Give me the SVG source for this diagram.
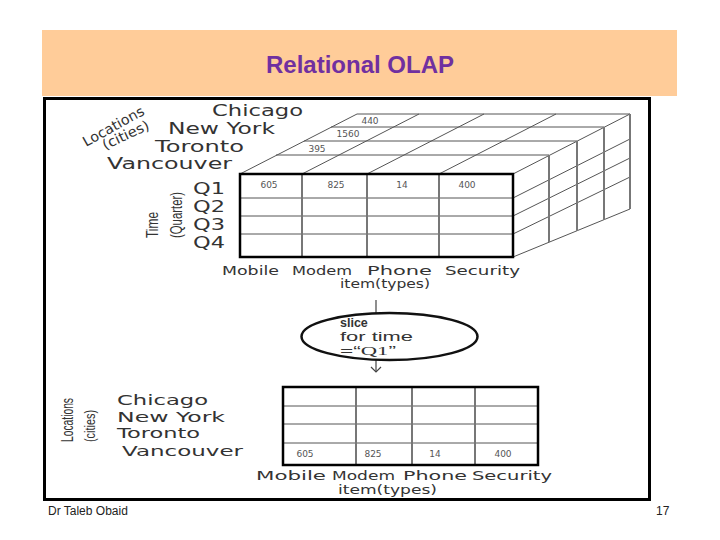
<svg xmlns="http://www.w3.org/2000/svg" width="720" height="540" viewBox="0 0 720 540">
<defs>
<style>
.lbl{font-family:"DejaVu Sans","Liberation Sans",sans-serif;fill:#333;}
.val{font-family:"DejaVu Sans","Liberation Sans",sans-serif;fill:#555;font-size:9px;text-anchor:middle;}
.cal{font-family:"Liberation Sans","DejaVu Sans",sans-serif;fill:#333;}
.thin{stroke:#555;stroke-width:1;fill:none;}
.vg{stroke:#777;stroke-width:2;fill:none;}
.frame{stroke:#000;stroke-width:2.5;fill:none;}
</style>
<marker id="vhead" markerWidth="12" markerHeight="12" refX="6" refY="6" orient="auto" markerUnits="userSpaceOnUse">
<polyline points="1,1 6,6 1,11" fill="none" stroke="#444" stroke-width="1.2"/>
</marker>
</defs>
<rect width="720" height="540" fill="#fff"/>
<g id="title">
<rect x="42" y="30" width="635" height="66" fill="#FFCC99"/>
<text x="360" y="73" font-family="Liberation Sans, Arial, sans-serif" font-weight="bold" font-size="24" fill="#7030A0" text-anchor="middle">Relational OLAP</text>
</g>
<rect x="44.5" y="98.5" width="605" height="401" fill="#fff" stroke="#000" stroke-width="3"/>

<g id="cube">
<g class="thin">
<line x1="240" y1="174" x2="357" y2="114"/>
<line x1="302" y1="174" x2="419" y2="114"/>
<line x1="367" y1="174" x2="484" y2="114"/>
<line x1="439" y1="174" x2="556" y2="114"/>
<line x1="513" y1="174" x2="630" y2="114"/>
<line x1="276" y1="155" x2="549" y2="155"/>
<line x1="304" y1="141" x2="577" y2="141"/>
<line x1="331" y1="127" x2="604" y2="127"/>
<line x1="357" y1="114" x2="630" y2="114"/>
<line x1="513" y1="198" x2="630" y2="139"/>
<line x1="513" y1="216" x2="630" y2="158"/>
<line x1="513" y1="234" x2="630" y2="177"/>
<line x1="513" y1="257" x2="630" y2="209"/>
</g>
<g class="vg">
<line x1="549" y1="155" x2="549" y2="242"/>
<line x1="577" y1="141" x2="577" y2="231"/>
<line x1="604" y1="127" x2="604" y2="220"/>
<line x1="630" y1="114" x2="630" y2="209"/>
</g>
<rect x="240" y="174" width="273" height="83" fill="#fff"/>
<g class="thin">
<line x1="240" y1="198" x2="513" y2="198"/>
<line x1="240" y1="216" x2="513" y2="216"/>
<line x1="240" y1="234" x2="513" y2="234"/>
</g>
<g class="vg">
<line x1="302" y1="174" x2="302" y2="257"/>
<line x1="367" y1="174" x2="367" y2="257"/>
<line x1="439" y1="174" x2="439" y2="257"/>
</g>
<rect x="240" y="174" width="273" height="83" class="frame"/>
<text class="val" x="370" y="124">440</text>
<text class="val" x="348" y="137">1560</text>
<text class="val" x="317" y="152">395</text>
<text class="val" x="269" y="188">605</text>
<text class="val" x="336" y="188">825</text>
<text class="val" x="402" y="188">14</text>
<text class="val" x="467" y="188">400</text>
<text class="lbl" font-size="16" x="212" y="116" textLength="91" lengthAdjust="spacingAndGlyphs">Chicago</text>
<text class="lbl" font-size="16" x="168" y="134" textLength="107" lengthAdjust="spacingAndGlyphs">New York</text>
<text class="lbl" font-size="16" x="155" y="152" textLength="89" lengthAdjust="spacingAndGlyphs">Toronto</text>
<text class="lbl" font-size="16" x="107" y="169" textLength="125" lengthAdjust="spacingAndGlyphs">Vancouver</text>
<text class="lbl" font-size="16" x="193" y="194" textLength="32" lengthAdjust="spacingAndGlyphs">Q1</text>
<text class="lbl" font-size="16" x="193" y="212" textLength="32" lengthAdjust="spacingAndGlyphs">Q2</text>
<text class="lbl" font-size="16" x="193" y="230" textLength="32" lengthAdjust="spacingAndGlyphs">Q3</text>
<text class="lbl" font-size="16" x="193" y="248" textLength="32" lengthAdjust="spacingAndGlyphs">Q4</text>
<text class="cal" font-size="17" transform="translate(158,238) rotate(-90)" textLength="26" lengthAdjust="spacingAndGlyphs">Time</text>
<text class="cal" font-size="16" transform="translate(182,238) rotate(-90)" textLength="46" lengthAdjust="spacingAndGlyphs">(Quarter)</text>
<text class="lbl" font-size="14" transform="translate(86,147) rotate(-29)" textLength="68" lengthAdjust="spacingAndGlyphs">Locations</text>
<text class="lbl" font-size="14" transform="translate(105,150) rotate(-25)" textLength="50" lengthAdjust="spacingAndGlyphs">(cities)</text>
<text class="lbl" font-size="12" x="222" y="275" textLength="57" lengthAdjust="spacingAndGlyphs">Mobile</text>
<text class="lbl" font-size="12" x="292" y="275" textLength="60" lengthAdjust="spacingAndGlyphs">Modem</text>
<text class="lbl" font-size="12" x="367" y="275" textLength="65" lengthAdjust="spacingAndGlyphs">Phone</text>
<text class="lbl" font-size="12" x="445" y="275" textLength="75" lengthAdjust="spacingAndGlyphs">Security</text>
<text class="lbl" font-size="12" x="340" y="288" textLength="90" lengthAdjust="spacingAndGlyphs">item(types)</text>
</g>

<g id="connectors">
<line x1="376" y1="300" x2="376" y2="313" stroke="#444" stroke-width="1.2"/>
<line x1="376" y1="360" x2="376" y2="372" stroke="#444" stroke-width="1.2" marker-end="url(#vhead)"/>
</g>

<g id="slice">
<ellipse cx="389.5" cy="336.5" rx="88" ry="23.5" fill="#fff" stroke="#111" stroke-width="2.5"/>
<text class="cal" font-size="12.5" font-weight="bold" x="340" y="327">slice</text>
<text class="cal" font-size="13" x="340" y="341" textLength="73" lengthAdjust="spacingAndGlyphs">for time</text>
<text class="cal" font-size="13" x="340" y="355" textLength="56" lengthAdjust="spacingAndGlyphs">=“<tspan font-family="Liberation Serif, serif">Q1</tspan>”</text>
</g>

<g id="table">
<rect x="283" y="387" width="255" height="78" fill="#fff"/>
<g class="thin">
<line x1="283" y1="406" x2="538" y2="406"/>
<line x1="283" y1="424" x2="538" y2="424"/>
<line x1="283" y1="443" x2="538" y2="443"/>
</g>
<g class="vg">
<line x1="356" y1="387" x2="356" y2="465"/>
<line x1="412" y1="387" x2="412" y2="465"/>
<line x1="475" y1="387" x2="475" y2="465"/>
</g>
<rect x="283" y="387" width="255" height="78" class="frame"/>
<text class="val" x="305" y="457">605</text>
<text class="val" x="373" y="457">825</text>
<text class="val" x="435" y="457">14</text>
<text class="val" x="503" y="457">400</text>
<text class="lbl" font-size="14" x="117" y="405" textLength="91" lengthAdjust="spacingAndGlyphs">Chicago</text>
<text class="lbl" font-size="14" x="117" y="422" textLength="108" lengthAdjust="spacingAndGlyphs">New York</text>
<text class="lbl" font-size="14" x="117" y="438" textLength="83" lengthAdjust="spacingAndGlyphs">Toronto</text>
<text class="lbl" font-size="14" x="122" y="456" textLength="121" lengthAdjust="spacingAndGlyphs">Vancouver</text>
<text class="cal" font-size="16" transform="translate(73,442) rotate(-90)" textLength="44" lengthAdjust="spacingAndGlyphs">Locations</text>
<text class="cal" font-size="15" transform="translate(95,442) rotate(-90)" textLength="32" lengthAdjust="spacingAndGlyphs">(cities)</text>
<text class="lbl" font-size="13" x="256" y="480" textLength="70" lengthAdjust="spacingAndGlyphs">Mobile</text>
<text class="lbl" font-size="13" x="332" y="480" textLength="63" lengthAdjust="spacingAndGlyphs">Modem</text>
<text class="lbl" font-size="13" x="403" y="480" textLength="64" lengthAdjust="spacingAndGlyphs">Phone</text>
<text class="lbl" font-size="13" x="472" y="480" textLength="80" lengthAdjust="spacingAndGlyphs">Security</text>
<text class="lbl" font-size="13" x="338" y="494" textLength="99" lengthAdjust="spacingAndGlyphs">item(types)</text>
</g>

<g id="footer">
<text x="48" y="515" font-family="Liberation Sans, Arial, sans-serif" font-size="12" fill="#222">Dr Taleb Obaid</text>
<text x="656" y="515" font-family="Liberation Sans, Arial, sans-serif" font-size="12" fill="#222">17</text>
</g>
</svg>
